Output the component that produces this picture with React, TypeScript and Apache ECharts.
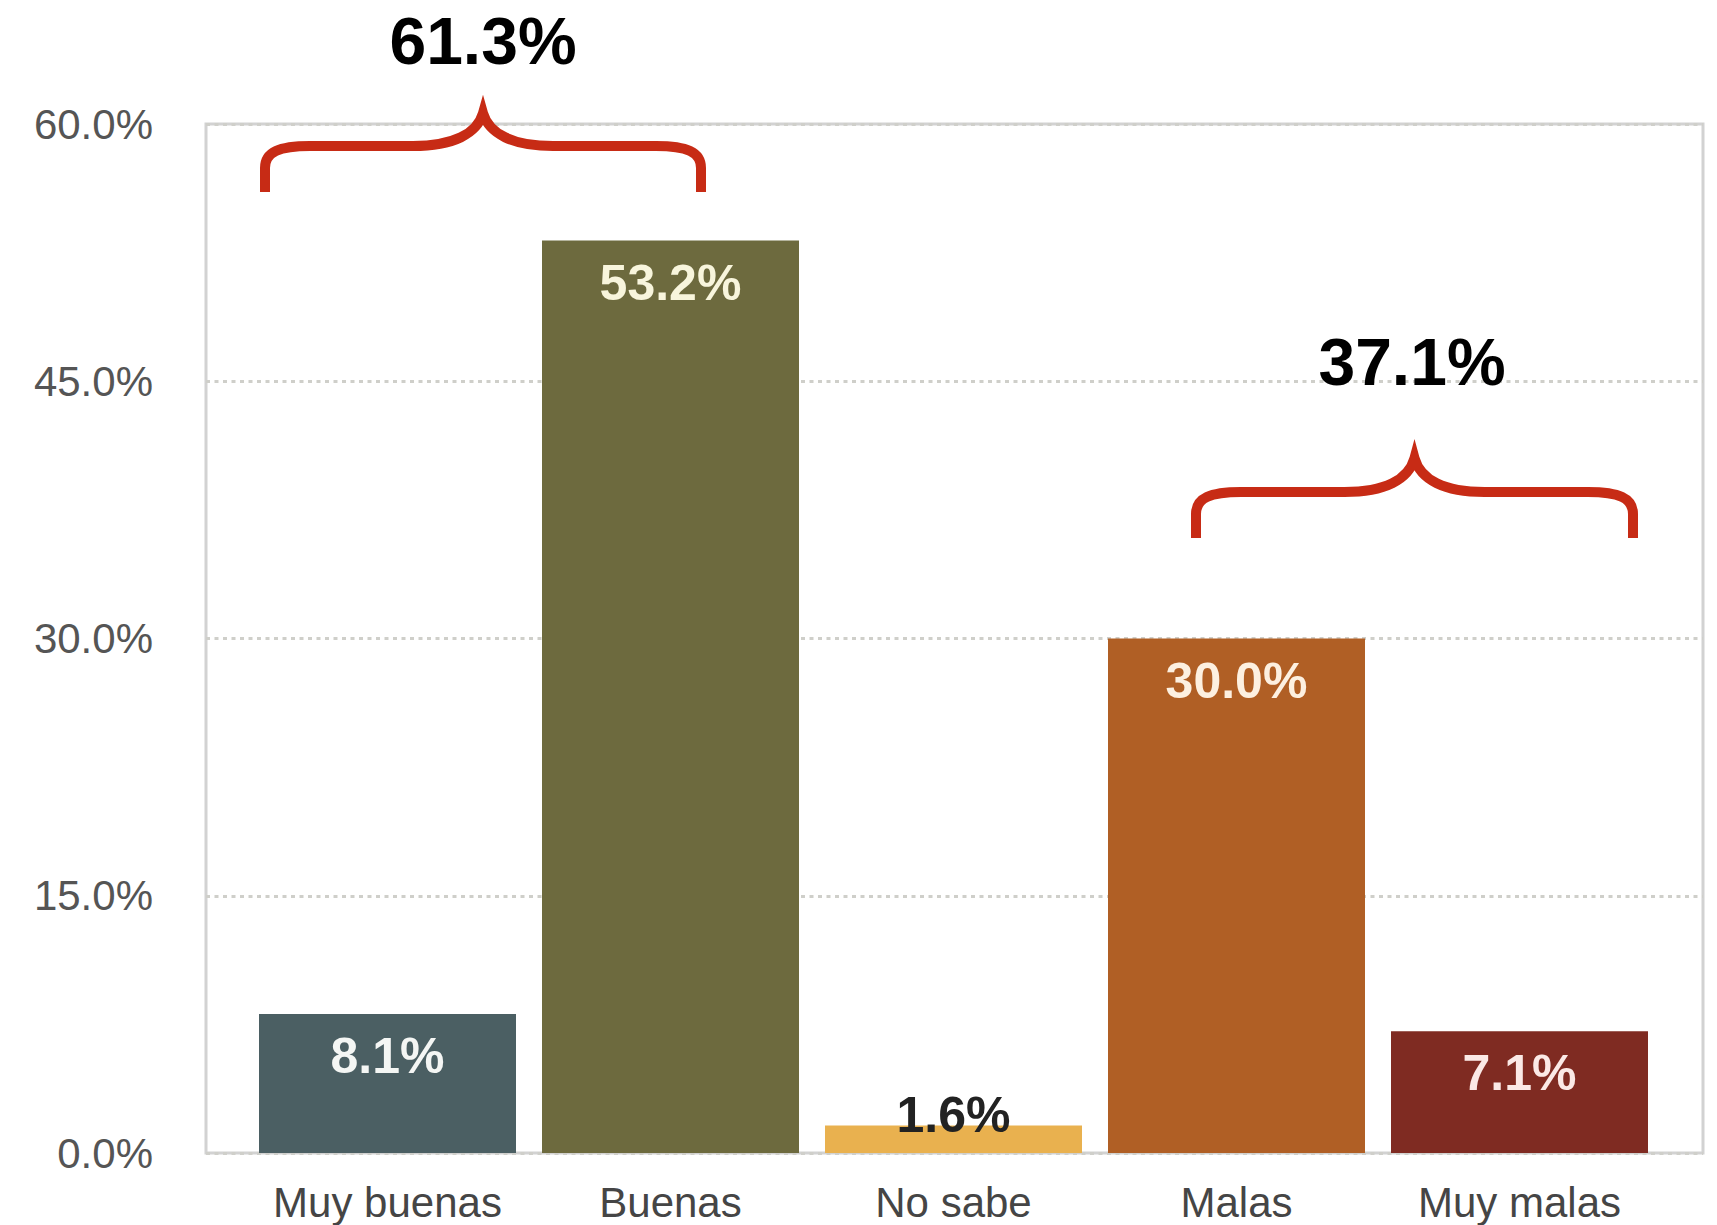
import React, { useEffect, useRef } from "react";
import * as echarts from "echarts";

const categories = ["Muy buenas", "Buenas", "No sabe", "Malas", "Muy malas"];
const values = [8.1, 53.2, 1.6, 30.0, 7.1];
const barColors = ["#4b5f63", "#6d6a3e", "#e9b14f", "#b05f25", "#7f2b22"];
const labelColors = ["#f4f6f4", "#f8f5dc", "#222222", "#fdf0e0", "#fbe9e6"];
const yTicks = [0, 15, 30, 45, 60];
const goodGroup = [0, 1];
const badGroup = [3, 4];

function bracePath(x0: number, x1: number, yb: number, yh: number, yp: number): string {
  const xm = (x0 + x1) / 2;
  return [
    `M ${x0} ${yb}`,
    `L ${x0} ${yh + 22}`,
    `C ${x0} ${yh + 6} ${x0 + 14} ${yh} ${x0 + 45} ${yh}`,
    `L ${xm - 70} ${yh}`,
    `C ${xm - 30} ${yh} ${xm - 6} ${yh - 12} ${xm} ${yp}`,
    `C ${xm + 6} ${yh - 12} ${xm + 30} ${yh} ${xm + 70} ${yh}`,
    `L ${x1 - 45} ${yh}`,
    `C ${x1 - 14} ${yh} ${x1} ${yh + 6} ${x1} ${yh + 22}`,
    `L ${x1} ${yb}`,
  ].join(" ");
}

export default function App() {
  const ref = useRef<HTMLDivElement>(null);
  useEffect(() => {
    if (!ref.current) return;
    echarts.graphic.registerShape("braceGood", echarts.graphic.extendPath(bracePath(265, 701, 192, 146, 113), {}));
    echarts.graphic.registerShape("braceBad", echarts.graphic.extendPath(bracePath(1196, 1633, 538, 492, 458), {}));
    const chart = echarts.init(ref.current, null, { renderer: "svg" });
    const sum = (idx: number[]) => idx.reduce((a, i) => a + values[i], 0);
    const yMin = yTicks[0];
    const yMax = yTicks[yTicks.length - 1];
    const yInt = yTicks[1] - yTicks[0];
    const font = "'Liberation Sans', Arial, sans-serif";
    const bigText = (text: string, x: number, y: number) => ({
      type: "text",
      x,
      y,
      z: 20,
      style: {
        text,
        fontSize: 66,
        lineHeight: 60,
        fontWeight: "bold",
        fontFamily: font,
        fill: "#000000",
        align: "center",
        verticalAlign: "middle",
      },
    });
    chart.setOption({
      animation: false,
      backgroundColor: "#ffffff",
      grid: [
        { left: 206, right: 14, top: 124, bottom: 72, show: true, borderColor: "#d2d2d2", borderWidth: 3, backgroundColor: "transparent" },
        { left: 246, right: 56, top: 124, bottom: 72 },
      ],
      xAxis: [
        { type: "category", gridIndex: 0, data: categories, show: false },
        {
          type: "category",
          gridIndex: 1,
          data: categories,
          axisLine: { show: false },
          axisTick: { show: false },
          axisLabel: { interval: 0, fontSize: 42, fontFamily: font, color: "#454545", margin: 28 },
        },
      ],
      yAxis: [
        {
          type: "value",
          gridIndex: 0,
          min: yMin,
          max: yMax,
          interval: yInt,
          axisLine: { show: false },
          axisTick: { show: false },
          axisLabel: {
            fontSize: 42,
            fontFamily: font,
            color: "#555555",
            margin: 53,
            padding: [16, 0, 0, 0],
            formatter: (v: number) => v.toFixed(1) + "%",
          },
          splitLine: { show: true, lineStyle: { color: "#cfcfca", width: 3, type: [4, 4.5] } },
        },
        { type: "value", gridIndex: 1, min: yMin, max: yMax, interval: yInt, show: false, splitLine: { show: false } },
      ],
      series: [
        {
          type: "bar",
          xAxisIndex: 1,
          yAxisIndex: 1,
          barWidth: 257,
          z: 5,
          data: values.map((v, i) => ({
            value: v,
            itemStyle: { color: barColors[i] },
            label:
              i === 2
                ? { show: true, position: "top", distance: -14, color: labelColors[i] }
                : { show: true, position: "insideTop", distance: 17, color: labelColors[i] },
          })),
          label: {
            show: true,
            fontSize: 50,
            fontWeight: "bold",
            fontFamily: font,
            formatter: (p: any) => Number(p.value).toFixed(1) + "%",
          },
        },
      ],
      graphic: [
        { type: "braceGood", x: 0, y: 0, silent: true, z: 20, style: { stroke: "#c72b15", fill: "none", lineWidth: 10 } },
        { type: "braceBad", x: 0, y: 0, silent: true, z: 20, style: { stroke: "#c72b15", fill: "none", lineWidth: 10 } },
        bigText(sum(goodGroup).toFixed(1) + "%", 483, 41),
        bigText(sum(badGroup).toFixed(1) + "%", 1412, 362),
      ],
    });
    return () => chart.dispose();
  }, []);
  return <div ref={ref} style={{ position: "fixed", left: 0, top: 0, width: 1717, height: 1225 }} />;
}
